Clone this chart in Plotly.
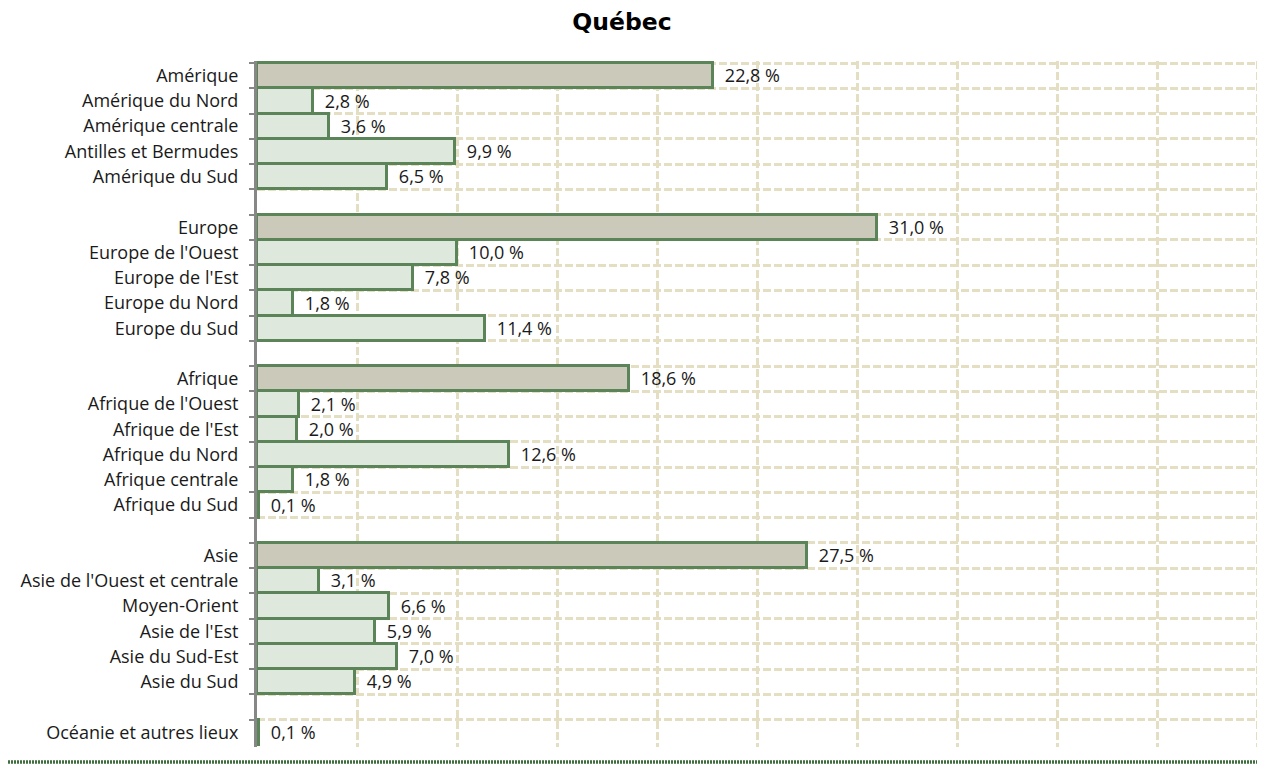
import plotly.graph_objects as go

categories = [
    "Amérique", "Amérique du Nord", "Amérique centrale", "Antilles et Bermudes", "Amérique du Sud",
    " ",
    "Europe", "Europe de l'Ouest", "Europe de l'Est", "Europe du Nord", "Europe du Sud",
    "  ",
    "Afrique", "Afrique de l'Ouest", "Afrique de l'Est", "Afrique du Nord", "Afrique centrale", "Afrique du Sud",
    "   ",
    "Asie", "Asie de l'Ouest et centrale", "Moyen-Orient", "Asie de l'Est", "Asie du Sud-Est", "Asie du Sud",
    "    ",
    "Océanie et autres lieux",
]
values = [
    22.8, 2.8, 3.6, 9.9, 6.5,
    None,
    31.0, 10.0, 7.8, 1.8, 11.4,
    None,
    18.6, 2.1, 2.0, 12.6, 1.8, 0.1,
    None,
    27.5, 3.1, 6.6, 5.9, 7.0, 4.9,
    None,
    0.1,
]
parents = ["Amérique", "Europe", "Afrique", "Asie"]

PARENT_FILL = "#cbc9ba"
CHILD_FILL = "#dfe8dc"
OUTLINE = "#5b8459"
GRID = "#e4dec3"
FONT = "Open Sans, Lato, sans-serif"

fills = [PARENT_FILL if c in parents else CHILD_FILL for c in categories]
labels = ["" if v is None else "\u00a0\u00a0" + f"{v:.1f}".replace(".", ",") + " %" for v in values]

# page has an 8px body margin, so the figure is sized to end at the window edge
W, H = 1257, 757
n = len(categories)

# layout geometry (figure pixels): rows span 55..737, value 0..50 spans 249..1249
X_MAX = 50.2                      # slight overshoot so the gridline at 50 is drawn
plot_w = 1000 * X_MAX / 50
row_h = (737 - 55) / n
EPS = 0.08                        # slight overshoot so the outer boundary gridlines are drawn
plot_h = (n + 2 * EPS) * row_h
top = 55 - EPS * row_h
left = 249

fig = go.Figure(go.Bar(
    x=values, y=categories, orientation="h",
    marker=dict(color=fills, line=dict(color=OUTLINE, width=3)),
    text=labels, textposition="outside", cliponaxis=False,
    textfont=dict(family=FONT, size=18, color="#1a1a1a"),
    width=1.0,
))

fig.update_layout(
    width=W, height=H,
    paper_bgcolor="white", plot_bgcolor="white",
    margin=dict(l=left, r=W - left - plot_w, t=top, b=H - top - plot_h, autoexpand=False),
    title=dict(text="<b>Québec</b>", x=614 / W, xanchor="center", y=1 - 14 / H, yanchor="middle",
               font=dict(family="DejaVu Sans, Verdana, sans-serif", size=23.5, color="black")),
    showlegend=False,
    bargap=0,
    font=dict(family=FONT, size=18, color="#1a1a1a"),
)
fig.update_xaxes(
    range=[0, X_MAX], dtick=5, tick0=0, showticklabels=False, ticks="",
    showgrid=True, gridcolor=GRID, gridwidth=2.5, griddash="8px,3px",
    zeroline=False, showline=False,
)
fig.update_yaxes(
    type="category", categoryorder="array", categoryarray=categories,
    range=[n - 0.5 + EPS, -0.5 - EPS], tickson="boundaries",
    showgrid=True, gridcolor=GRID, gridwidth=2.5, griddash="8px,3px",
    showline=True, linecolor="#878787", linewidth=3,
    ticks="outside", ticklen=5, tickwidth=2, tickcolor="#878787",
    ticklabelstandoff=12,
    tickfont=dict(family=FONT, size=18, color="#1a1a1a"),
)
line_y = -(H - 3 - (top + plot_h)) / plot_h
fig.add_shape(type="line", xref="paper", yref="paper", x0=-left / plot_w, x1=1 + 10 / plot_w,
              y0=line_y, y1=line_y,
              line=dict(color="#3f6e3f", width=3.5, dash="2px,1px"))

fig.write_html("out.html")
